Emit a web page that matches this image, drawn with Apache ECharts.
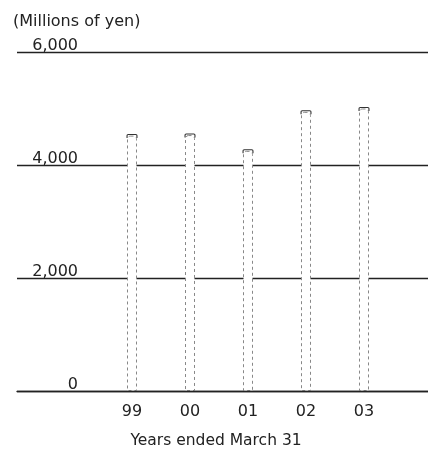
<!DOCTYPE html>
<html><head><meta charset="utf-8">
<script src="https://cdn.jsdelivr.net/npm/echarts@6/dist/echarts.min.js"></script>
<style>html,body{margin:0;padding:0;background:#fff}#c{width:428px;height:455px}</style>
</head><body><div id="c"></div>
<script>
const categories = ['99', '00', '01', '02', '03'];
const values = [4520, 4530, 4250, 4940, 5000];
const yTicks = [0, 2000, 4000, 6000];
const yUnit = '(Millions of yen)';
const xTitle = 'Years ended March 31';

const FONT = 'DejaVu Sans';
const chart = echarts.init(document.getElementById('c'), null, {renderer: 'canvas'});
chart.setOption({
  animation: false,
  backgroundColor: '#fff',
  title: [
    {text: yUnit, left: 13, top: 14, padding: 0,
     textStyle: {fontFamily: FONT, fontSize: 16, fontWeight: 'normal', color: '#222'}},
    {text: xTitle, left: 216, top: 433, padding: 0, textAlign: 'center',
     textStyle: {fontFamily: FONT, fontSize: 15.5, fontWeight: 'normal', color: '#222'}}
  ],
  grid: [
    {left: 17, right: 0, top: 52, bottom: 64},
    {left: 103, right: 35, top: 52, bottom: 64}
  ],
  xAxis: [
    {type: 'category', gridIndex: 0, data: [''], z: 5,
     axisLine: {show: true, lineStyle: {color: '#222', width: 1.3}},
     axisTick: {show: false}, axisLabel: {show: false}},
    {type: 'category', gridIndex: 1, data: categories,
     axisLine: {show: false}, axisTick: {show: false},
     axisLabel: {margin: 13, fontFamily: FONT, fontSize: 16, color: '#222'}}
  ],
  yAxis: [
    {type: 'value', gridIndex: 0, min: yTicks[0], max: yTicks[yTicks.length - 1], interval: 2000,
     axisLine: {show: false}, axisTick: {show: false},
     splitLine: {show: true, lineStyle: {color: '#222', width: 1.3}},
     axisLabel: {inside: true, margin: 61, align: 'right', verticalAlign: 'bottom',
       lineHeight: 13, padding: 0, fontFamily: FONT, fontSize: 16, color: '#222',
       formatter: v => v.toLocaleString('en-US')}},
    {type: 'value', gridIndex: 1, min: yTicks[0], max: yTicks[yTicks.length - 1], interval: 2000,
     show: false, splitLine: {show: false}}
  ],
  series: [
    {type: 'bar', xAxisIndex: 1, yAxisIndex: 1, data: values, barWidth: 10,
     itemStyle: {color: '#fff', borderColor: '#888', borderWidth: 1, borderType: [3, 3],
       borderRadius: [3, 3, 0, 0]}},
    {type: 'pictorialBar', xAxisIndex: 1, yAxisIndex: 1, data: values,
     symbol: 'path://M0,4 L0,1.5 Q0,0 1.5,0 L8.5,0 Q10,0 10,1.5 L10,4 L9,4 L9,1.5 Q9,1 8.5,1 L1.5,1 Q1,1 1,1.5 L1,4 Z',
     symbolSize: [11, 4], symbolPosition: 'end', symbolOffset: [0, '-40%'], z: 4,
     itemStyle: {color: '#333'}}
  ]
});
</script></body></html>
